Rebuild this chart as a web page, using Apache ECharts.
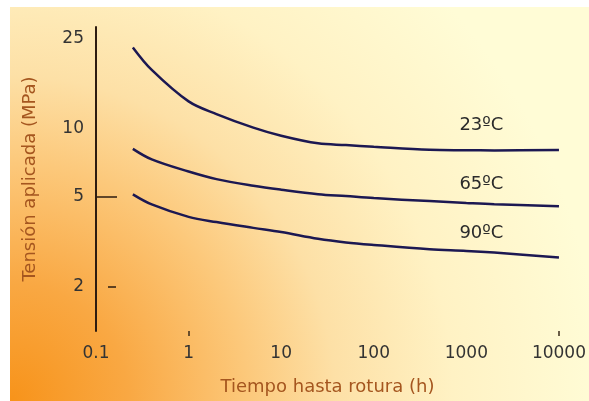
<!DOCTYPE html>
<html>
<head>
<meta charset="utf-8">
<script src="https://cdn.jsdelivr.net/npm/echarts@6/dist/echarts.min.js"></script>
<style>
html,body{margin:0;padding:0;background:#fff;}
#chart{width:589px;height:401px;}
</style>
</head>
<body>
<div id="chart"></div>
<script>
// Data
const times = [0.25, 0.4, 1, 2, 5, 10, 25, 50, 100, 400, 1000, 2000, 10000];
const stress23 = [22.9, 18.2, 13.2, 11.6, 10.1, 9.3, 8.6, 8.45, 8.3, 8.05, 8.02, 8.0, 8.03];
const stress65 = [8.13, 7.3, 6.45, 5.97, 5.58, 5.36, 5.12, 5.02, 4.92, 4.77, 4.68, 4.62, 4.53];
const stress90 = [5.11, 4.61, 4.06, 3.85, 3.63, 3.48, 3.25, 3.13, 3.05, 2.92, 2.87, 2.82, 2.68];
const seriesNames = ['23ºC', '65ºC', '90ºC'];
const yTickLabels = [2, 5, 10, 25];
const xTickLabels = [0.1, 1, 10, 100, 1000, 10000];
const labelAt = 1000;

const labelDistances = [16, 10, 9];
const lineColor = '#1c1852';
const nameColor = '#a5561f';

function build(vals, idx) {
  return times.map((t, i) => {
    const item = { value: [t, vals[i]] };
    if (t === labelAt) {
      item.label = {
        show: true,
        position: 'top',
        distance: labelDistances[idx],
        offset: [15, 0],
        formatter: seriesNames[idx],
        color: '#2b2b2b',
        fontFamily: 'DejaVu Sans',
        fontSize: 18
      };
    }
    return item;
  });
}

const chart = echarts.init(document.getElementById('chart'), null, { renderer: 'canvas' });
const option = {
  backgroundColor: '#ffffff',
  animation: false,
  graphic: [{
    type: 'rect',
    left: 10, top: 7, z: -10,
    shape: { width: 579, height: 394 },
    style: {
      fill: {
        type: 'radial', x: 0, y: 1, r: 1.5,
        colorStops: [
          { offset: 0, color: '#f7931a' },
          { offset: 0.2, color: '#f9a843' },
          { offset: 0.4, color: '#fcc87a' },
          { offset: 0.55, color: '#fde0a6' },
          { offset: 0.75, color: '#fff2c4' },
          { offset: 1, color: '#fffcd6' }
        ]
      }
    }
  }],
  grid: { left: 96, right: 27, top: 27, bottom: 69 },
  xAxis: {
    type: 'log', logBase: 10, min: 0.1, max: 10000,
    name: 'Tiempo hasta rotura (h)',
    nameLocation: 'middle', nameGap: 47,
    nameTextStyle: { color: nameColor, fontFamily: 'DejaVu Sans', fontSize: 18 },
    axisLine: { show: false },
    axisTick: { show: true, customValues: [1, 10000], length: 5, inside: false,
      lineStyle: { color: '#3a2a1a', width: 1.5 } },
    axisLabel: {
      customValues: xTickLabels,
      margin: 14,
      color: '#333',
      fontFamily: 'DejaVu Sans', fontSize: 17,
      formatter: v => String(v)
    },
    splitLine: { show: false }
  },
  yAxis: [{
    type: 'log', logBase: 10, min: 1.267, max: 28.2,
    name: 'Tensión aplicada (MPa)',
    nameLocation: 'middle', nameGap: 57, nameRotate: 90,
    nameTextStyle: { color: nameColor, fontFamily: 'DejaVu Sans', fontSize: 18 },
    axisLine: { show: true, lineStyle: { color: '#2e1c10', width: 2 } },
    axisTick: { show: true, customValues: [5], inside: true, length: 21,
      lineStyle: { color: '#2e1c10', width: 1.5 } },
    axisLabel: {
      customValues: yTickLabels,
      margin: 12,
      color: '#333',
      fontFamily: 'DejaVu Sans', fontSize: 17,
      formatter: v => String(v)
    },
    splitLine: { show: false }
  }, {
    type: 'log', logBase: 10, min: 1.267, max: 28.2,
    position: 'left', offset: -12,
    axisLine: { show: false },
    axisTick: { show: true, customValues: [2], inside: true, length: 8,
      lineStyle: { color: '#2e1c10', width: 1.5 } },
    axisLabel: { show: false },
    splitLine: { show: false }
  }],
  series: [stress23, stress65, stress90].map((vals, idx) => ({
    name: seriesNames[idx],
    type: 'line',
    yAxisIndex: 0,
    smooth: 0.35,
    symbol: 'circle',
    symbolSize: 0,
    showSymbol: true,
    showAllSymbol: true,
    lineStyle: { color: lineColor, width: 2.5 },
    itemStyle: { color: lineColor },
    data: build(vals, idx)
  }))
};
chart.setOption(option);
</script>
</body>
</html>
